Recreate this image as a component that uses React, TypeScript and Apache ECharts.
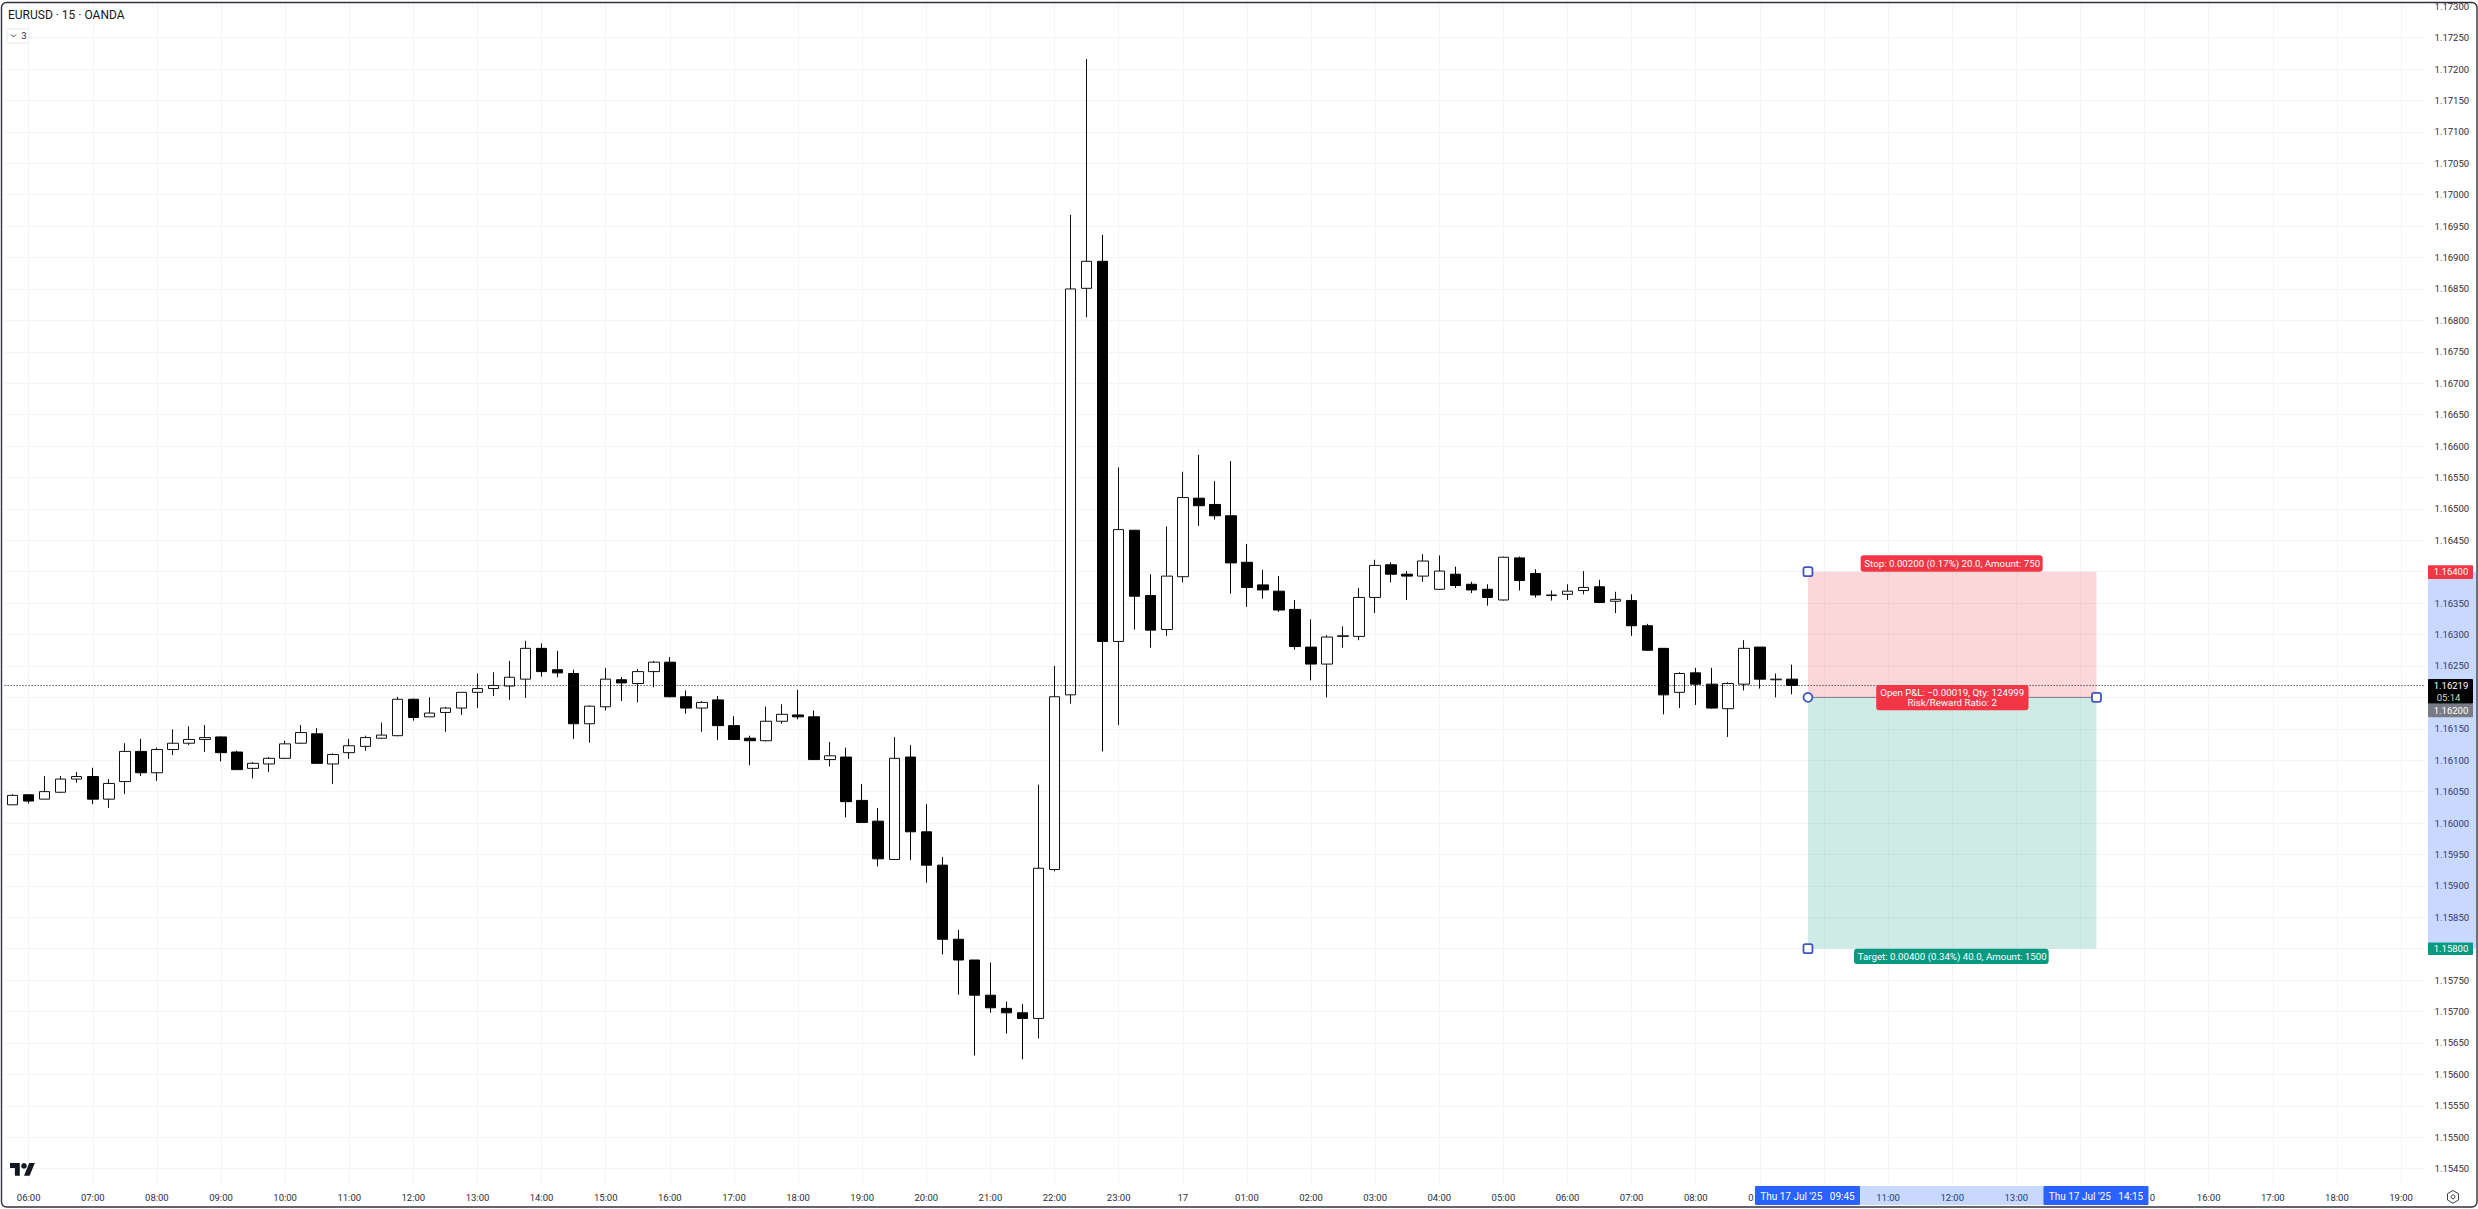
import React, { useEffect, useRef } from "react";
import * as echarts from "echarts";

const opens = [1.16029,1.16045,1.16038,1.16049,1.16070,1.16074,1.16038,1.16066,1.16114,1.16080,1.16117,1.16127,1.16133,1.16137,1.16113,1.16087,1.16094,1.16103,1.16127,1.16142,1.16094,1.16112,1.16122,1.16135,1.16139,1.16197,1.16169,1.16176,1.16183,1.16208,1.16214,1.16218,1.16229,1.16278,1.16244,1.16238,1.16158,1.16185,1.16228,1.16222,1.16241,1.16256,1.16201,1.16183,1.16196,1.16155,1.16135,1.16131,1.16162,1.16172,1.16169,1.16101,1.16105,1.16036,1.16003,1.15942,1.16105,1.15986,1.15933,1.15815,1.15782,1.15726,1.15705,1.15698,1.15689,1.15926,1.16204,1.16851,1.16894,1.16289,1.16466,1.16362,1.16308,1.16392,1.16517,1.16507,1.16489,1.16415,1.16379,1.16369,1.16340,1.16280,1.16253,1.16297,1.16297,1.16359,1.16411,1.16396,1.16393,1.16372,1.16396,1.16380,1.16372,1.16355,1.16422,1.16397,1.16362,1.16364,1.16370,1.16376,1.16353,1.16354,1.16314,1.16278,1.16208,1.16239,1.16221,1.16182,1.16221,1.16280,1.16228,1.16229];
const closes = [1.16044,1.16035,1.16050,1.16070,1.16074,1.16038,1.16063,1.16114,1.16080,1.16117,1.16127,1.16133,1.16136,1.16112,1.16085,1.16095,1.16103,1.16126,1.16144,1.16095,1.16109,1.16123,1.16136,1.16140,1.16197,1.16168,1.16175,1.16183,1.16208,1.16214,1.16219,1.16232,1.16278,1.16241,1.16239,1.16158,1.16186,1.16229,1.16223,1.16241,1.16256,1.16201,1.16183,1.16192,1.16155,1.16133,1.16131,1.16162,1.16173,1.16169,1.16101,1.16107,1.16034,1.16001,1.15943,1.16103,1.15986,1.15933,1.15815,1.15782,1.15726,1.15706,1.15698,1.15689,1.15928,1.16201,1.16850,1.16894,1.16289,1.16467,1.16361,1.16307,1.16393,1.16518,1.16505,1.16489,1.16414,1.16375,1.16371,1.16339,1.16281,1.16253,1.16296,1.16298,1.16359,1.16410,1.16396,1.16393,1.16417,1.16401,1.16378,1.16371,1.16359,1.16423,1.16386,1.16363,1.16363,1.16369,1.16375,1.16351,1.16356,1.16314,1.16275,1.16204,1.16238,1.16221,1.16183,1.16222,1.16278,1.16229,1.16229,1.16219];
const highs = [1.16046,1.16046,1.16075,1.16075,1.16081,1.16088,1.16070,1.16127,1.16134,1.16120,1.16149,1.16154,1.16156,1.16138,1.16115,1.16097,1.16105,1.16131,1.16156,1.16151,1.16111,1.16134,1.16139,1.16160,1.16201,1.16198,1.16200,1.16185,1.16208,1.16238,1.16240,1.16258,1.16290,1.16286,1.16274,1.16244,1.16187,1.16247,1.16232,1.16245,1.16258,1.16264,1.16211,1.16194,1.16202,1.16170,1.16139,1.16185,1.16189,1.16212,1.16179,1.16129,1.16120,1.16062,1.16024,1.16137,1.16124,1.16030,1.15946,1.15830,1.15782,1.15778,1.15716,1.15712,1.16061,1.16250,1.16968,1.17216,1.16936,1.16566,1.16466,1.16396,1.16472,1.16559,1.16586,1.16544,1.16576,1.16444,1.16403,1.16393,1.16355,1.16324,1.16299,1.16313,1.16374,1.16419,1.16415,1.16401,1.16428,1.16426,1.16408,1.16384,1.16380,1.16424,1.16424,1.16404,1.16370,1.16380,1.16401,1.16387,1.16368,1.16364,1.16317,1.16278,1.16240,1.16247,1.16247,1.16224,1.16291,1.16280,1.16238,1.16252];
const lows = [1.16029,1.16031,1.16038,1.16048,1.16064,1.16030,1.16024,1.16046,1.16075,1.16067,1.16108,1.16124,1.16113,1.16098,1.16085,1.16071,1.16081,1.16102,1.16126,1.16095,1.16062,1.16102,1.16115,1.16134,1.16138,1.16163,1.16169,1.16145,1.16172,1.16183,1.16202,1.16196,1.16199,1.16233,1.16232,1.16134,1.16128,1.16179,1.16194,1.16192,1.16216,1.16200,1.16174,1.16145,1.16132,1.16132,1.16092,1.16130,1.16158,1.16165,1.16101,1.16090,1.16009,1.16001,1.15931,1.15942,1.15941,1.15905,1.15791,1.15727,1.15630,1.15698,1.15665,1.15624,1.15657,1.15923,1.16190,1.16805,1.16114,1.16156,1.16308,1.16279,1.16298,1.16383,1.16473,1.16483,1.16365,1.16344,1.16357,1.16336,1.16276,1.16227,1.16200,1.16279,1.16291,1.16334,1.16383,1.16355,1.16384,1.16371,1.16374,1.16366,1.16346,1.16354,1.16370,1.16359,1.16354,1.16355,1.16364,1.16350,1.16334,1.16298,1.16274,1.16173,1.16183,1.16188,1.16182,1.16137,1.16211,1.16214,1.16200,1.16205];

const priceGrid = [1.173,1.1725,1.172,1.1715,1.171,1.1705,1.17,1.1695,1.169,1.1685,1.168,1.1675,1.167,1.1665,1.166,1.1655,1.165,1.1645,1.164,1.1635,1.163,1.1625,1.162,1.1615,1.161,1.1605,1.16,1.1595,1.159,1.1585,1.158,1.1575,1.157,1.1565,1.156,1.1555,1.155,1.1545];
const taggedPrices = [1.164, 1.162, 1.158];
const hourLabels = ["06:00","07:00","08:00","09:00","10:00","11:00","12:00","13:00","14:00","15:00","16:00","17:00","18:00","19:00","20:00","21:00","22:00","23:00","17","01:00","02:00","03:00","04:00","05:00","06:00","07:00","08:00","09:00","10:00","11:00","12:00","13:00","14:00","15:00","16:00","17:00","18:00","19:00"];
const barCount = 151;
const categories: string[] = Array.from({ length: barCount }, (_, i) =>
  (i - 1) % 4 === 0 ? hourLabels[(i - 1) / 4] : "·" + i
);

const stopPrice = 1.164;
const entryPrice = 1.162;
const targetPrice = 1.158;
const lastPrice = 1.16219;
const startBar = 112;
const endBar = 130;
// hour labels that the blue time tags cover in the reference
const coveredBars = [109, 113, 129, 133];
const FONT = "Roboto, sans-serif";
const RED = "#f23645";
const GREEN = "#089981";
const BLUE = "#2962ff";
const HANDLE = "#3f56c4";

echarts.graphic.registerShape(
  "tvlogo",
  echarts.graphic.extendPath("M14 22H7V11H0V4h14v18zM28 22h-8l7.5-18h8L28 22z", {})
);

const isHour = (i: number) => (i - 1) % 4 === 0;

export default function App() {
  const ref = useRef<HTMLDivElement>(null);
  useEffect(() => {
    document.body.style.margin = "0";
    const chart = echarts.init(ref.current!, undefined, { renderer: "svg" });
    chart.setOption({
      animation: false,
      backgroundColor: "#ffffff",
      grid: { left: 4.6, right: 52.9, top: 3, bottom: 26, containLabel: false },
      xAxis: {
        type: "category",
        data: categories,
        boundaryGap: true,
        axisLine: { show: false },
        axisTick: { show: false, alignWithLabel: true, interval: (i: number) => isHour(i) },
        axisLabel: {
          interval: (i: number) => isHour(i) && !coveredBars.includes(i),
          color: "#2a2e39",
          fontFamily: FONT,
          fontSize: 9.5,
          margin: 9,
        },
        splitLine: {
          show: true,
          alignWithLabel: true,
          interval: (i: number) => isHour(i),
          lineStyle: { color: "#f3f4f7", width: 1 },
        },
      },
      yAxis: {
        type: "value",
        position: "right",
        min: 1.154271,
        max: 1.173051,
        scale: true,
        axisLine: { show: false },
        axisTick: { show: false, customValues: priceGrid },
        axisLabel: {
          customValues: priceGrid.filter((p) => !taggedPrices.includes(p)),
          formatter: (v: number) => v.toFixed(5),
          color: "#2a2e39",
          fontFamily: FONT,
          fontSize: 9.5,
          margin: 9.5,
          showMinLabel: true,
          showMaxLabel: true,
        },
        splitLine: { show: true, lineStyle: { color: "#f3f4f7", width: 1 } },
      },
      series: [
        {
          type: "candlestick",
          barWidth: 11,
          data: opens.map((o, i) => [o, closes[i], lows[i], highs[i]]),
          itemStyle: { color: "#ffffff", color0: "#000000", borderColor: "#111111", borderColor0: "#000000", borderWidth: 1 },
          markLine: {
            silent: true,
            symbol: "none",
            precision: 5,
            label: { show: false },
            lineStyle: { color: "#131722", type: [1, 2], width: 1 },
            data: [{ yAxis: lastPrice }],
          },
          markArea: {
            silent: true,
            label: { show: false },
            data: [
              [
                { xAxis: startBar, yAxis: stopPrice, itemStyle: { color: "rgba(242,54,69,0.2)" } },
                { xAxis: endBar, yAxis: entryPrice },
              ],
              [
                { xAxis: startBar, yAxis: entryPrice, itemStyle: { color: "rgba(8,153,129,0.2)" } },
                { xAxis: endBar, yAxis: targetPrice },
              ],
            ],
          },
        },
      ],
    });

    const px = (bar: number, price: number) => chart.convertToPixel({ xAxisIndex: 0, yAxisIndex: 0 }, [bar, price]) as number[];
    const [sx, stopY] = px(startBar, stopPrice);
    const [ex, entryY] = px(endBar, entryPrice);
    const [, targetY] = px(startBar, targetPrice);
    const [, lastY] = px(startBar, lastPrice);
    const axisL = 2428;
    const axisTagR = 2473;
    const axisCx = 2451;
    const Z = 100;

    const txt = (text: string, x: number, y: number, fill: string, size = 9.5, align = "center", z = Z + 2) => ({
      type: "text",
      z,
      x,
      y,
      style: { text, fill, font: `${size}px ${FONT}`, align, verticalAlign: "middle" },
    });
    const box = (x: number, y: number, w: number, h: number, fill: string, r = 0, z = Z) => ({
      type: "rect",
      z,
      shape: { x, y, width: w, height: h, r },
      style: { fill },
    });
    const handle = (x: number, y: number) => ({
      type: "rect",
      z: Z + 3,
      shape: { x: x - 4.5, y: y - 4.5, width: 9, height: 9, r: 2 },
      style: { fill: "#ffffff", stroke: HANDLE, lineWidth: 1.8 },
    });

    const elements: any[] = [
      // axis highlights
      box(axisL, stopY, 2476 - axisL, targetY - stopY, "rgba(41,98,255,0.25)", 0, 50),
      box(sx, 1186, ex - sx, 19, "rgba(41,98,255,0.25)", 0, 50),

      // entry line
      {
        type: "line",
        z: 60,
        shape: { x1: sx, y1: entryY, x2: ex, y2: entryY },
        style: { stroke: "#787b86", lineWidth: 1 },
      },

      // position labels
      box(sx + 52.7, stopY - 16.4, 182, 16.4, RED, 3),
      txt("Stop: 0.00200 (0.17%) 20.0, Amount: 750", (sx + ex) / 2, stopY - 8, "#ffffff", 9.7),
      box((sx + ex) / 2 - 76, entryY - 12.3, 152.3, 25.3, RED, 3),
      txt("Open P&L: −0.00019, Qty: 124999", (sx + ex) / 2, entryY - 5, "#ffffff", 9.7),
      txt("Risk/Reward Ratio: 2", (sx + ex) / 2, entryY + 5, "#ffffff", 9.7),
      box(sx + 46, targetY, 194.7, 15.3, GREEN, 3),
      txt("Target: 0.00400 (0.34%) 40.0, Amount: 1500", (sx + ex) / 2, targetY + 7.8, "#ffffff", 9.7),

      // handles
      handle(sx, stopY),
      {
        type: "circle",
        z: Z + 3,
        shape: { cx: sx, cy: entryY, r: 4.5 },
        style: { fill: "#ffffff", stroke: HANDLE, lineWidth: 1.8 },
      },
      handle(ex, entryY),
      handle(sx, targetY),

      // price tags
      box(axisL, stopY - 6.5, axisTagR - axisL, 13.7, RED, 1),
      txt("1.16400", axisCx, stopY + 0.3, "#ffffff"),
      box(axisL, lastY - 6.4, axisTagR - axisL, 24.7, "#000000", 1),
      txt("1.16219", axisCx, lastY + 0.2, "#ffffff"),
      txt("05:14", axisCx - 2.5, lastY + 11.8, "#d8d8d8"),
      box(axisL, lastY + 18.3, axisTagR - axisL, 13.4, "#787b86", 1),
      txt("1.16200", axisCx, lastY + 25, "#ffffff"),
      box(axisL, targetY - 6.2, axisTagR - axisL, 12.6, GREEN, 1),
      txt("1.15800", axisCx, targetY, "#ffffff"),

      // time tags, with the slivers of the covered hour labels beside them
      txt("0", sx - 57, 1197, "#2a2e39"),
      box(sx - 53, 1186, 105, 19, BLUE, 1),
      txt("Thu 17 Jul '25   09:45", sx - 0.5, 1196.7, "#ffffff", 10),
      txt("0", ex + 56, 1197, "#2a2e39"),
      box(ex - 53, 1186, 105, 19, BLUE, 1),
      txt("Thu 17 Jul '25   14:15", ex - 0.5, 1196.7, "#ffffff", 10),

      // header
      txt("EURUSD · 15 · OANDA", 8, 14.5, "#131722", 12, "left"),
      {
        type: "rect",
        z: Z,
        shape: { x: 7, y: 29, width: 22, height: 14, r: 2 },
        style: { fill: "#ffffff", stroke: "#e6e8ee", lineWidth: 1 },
      },
      {
        type: "polyline",
        z: Z + 1,
        shape: { points: [[11, 34.5], [13.5, 37], [16, 34.5]] },
        style: { stroke: "#4a4e58", lineWidth: 1, fill: "none" },
      },
      txt("3", 24, 35.8, "#2a2e39", 9.5),

      // watermark logo
      { type: "tvlogo", z: Z, x: 10, y: 1160.3, scaleX: 0.7, scaleY: 0.7, style: { fill: "#131722" } },
      { type: "circle", z: Z, shape: { cx: 24, cy: 1165.9, r: 2.8 }, style: { fill: "#131722" } },

      // settings icon
      {
        type: "polygon",
        z: Z,
        shape: { points: [[2453, 1190.5], [2458.5, 1193.7], [2458.5, 1200], [2453, 1203.2], [2447.5, 1200], [2447.5, 1193.7]] },
        style: { fill: "#ffffff", stroke: "#3a3e48", lineWidth: 1 },
      },
      { type: "circle", z: Z + 1, shape: { cx: 2453, cy: 1196.8, r: 2 }, style: { fill: "#ffffff", stroke: "#3a3e48", lineWidth: 1 } },

      // frame
      {
        type: "rect",
        z: Z + 10,
        shape: { x: 1.5, y: 2.5, width: 2475.5, height: 1204.5, r: 5 },
        style: { fill: "none", stroke: "#2f333d", lineWidth: 1.4 },
      },
    ];
    chart.setOption({ graphic: { elements } });
    return () => chart.dispose();
  }, []);
  return <div ref={ref} style={{ position: "fixed", left: 0, top: 0, width: 2478, height: 1209 }} />;
}
